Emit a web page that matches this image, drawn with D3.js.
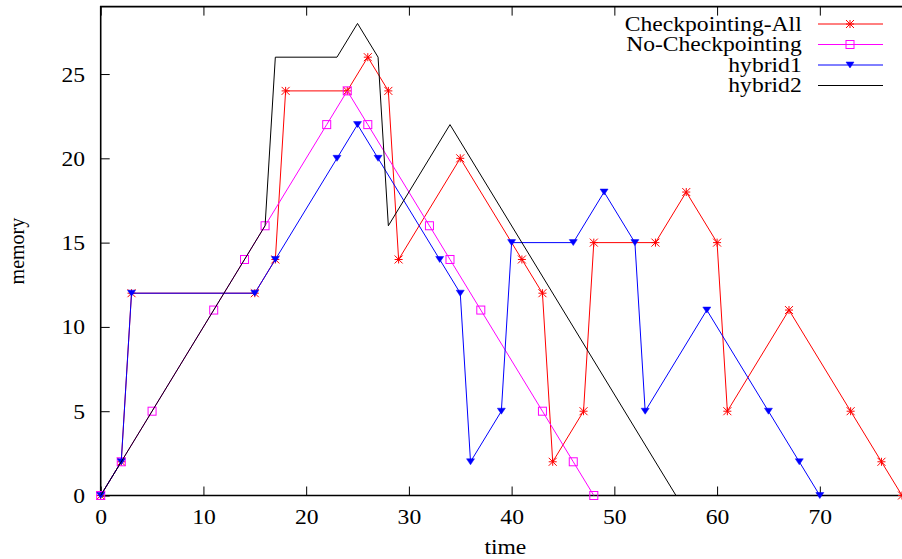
<!DOCTYPE html>
<html>
<head>
<meta charset="utf-8">
<script src="https://cdn.jsdelivr.net/npm/d3@7"></script>
<style>
  body { margin: 0; background: #fff; }
  text { font-family: "Liberation Serif", "DejaVu Serif", serif; font-size: 20px; fill: #000; }
</style>
</head>
<body>
<script>
// data
var ckptAllX = [0, 2, 3, 15, 17, 18, 24, 26, 28, 29, 35, 41, 43, 44, 47, 48, 54, 57, 60, 61, 67, 73, 76, 78];
var ckptAllY = [0, 2, 12, 12, 14, 24, 24, 26, 24, 14, 20, 14, 12, 2, 5, 15, 15, 18, 15, 5, 11, 5, 2, 0];

var noCkptX = [0, 2, 5, 11, 14, 16, 22, 24, 26, 32, 34, 37, 43, 46, 48];
var noCkptY = [0, 2, 5, 11, 14, 16, 22, 24, 22, 16, 14, 11, 5, 2, 0];

var hybrid1X = [0, 2, 3, 15, 17, 23, 25, 27, 33, 35, 36, 39, 40, 46, 49, 52, 53, 59, 65, 68, 70];
var hybrid1Y = [0, 2, 12, 12, 14, 20, 22, 20, 14, 12, 2, 5, 15, 15, 18, 15, 5, 11, 5, 2, 0];

var hybrid2X = [0, 16, 17, 23, 25, 27, 28, 34, 56];
var hybrid2Y = [0, 16, 26, 26, 28, 26, 16, 22, 0];

var xTicks = [0, 10, 20, 30, 40, 50, 60, 70];
var yTicks = [0, 5, 10, 15, 20, 25];

var series = [
  {name: "Checkpointing-All", xs: ckptAllX, ys: ckptAllY, color: "#ff0000", mark: "star"},
  {name: "No-Checkpointing", xs: noCkptX, ys: noCkptY, color: "#ff00ff", mark: "square"},
  {name: "hybrid1", xs: hybrid1X, ys: hybrid1Y, color: "#0000ff", mark: "tri"},
  {name: "hybrid2", xs: hybrid2X, ys: hybrid2Y, color: "#000000", mark: null}
];

var width = 902, height = 559;
var stretch = 1.18; // the text in the picture is a bit wide

var x = d3.scaleLinear().domain([0, 78]).range([100.7, 902]);
var y = d3.scaleLinear().domain([0, 29]).range([495.5, 6.6]);

var svg = d3.select("body").append("svg")
    .attr("width", width)
    .attr("height", height);

// axes, ticks pointing in
svg.append("g")
    .attr("transform", "translate(0," + y(0) + ")")
    .call(d3.axisBottom(x).tickValues(xTicks).tickSize(-9).tickPadding(14).tickSizeOuter(0))
    .call(function(g) {
      g.select(".domain").remove();
      g.selectAll("text").attr("transform", "scale(" + stretch + ",1)").style("font-size", "20px").style("font-family", null);
    });

svg.append("g")
    .attr("transform", "translate(0," + y(29) + ")")
    .call(d3.axisTop(x).tickValues(xTicks).tickSize(-9).tickSizeOuter(0).tickFormat(""))
    .call(function(g) { g.select(".domain").remove(); });

svg.append("g")
    .attr("transform", "translate(" + x(0) + ",0)")
    .call(d3.axisLeft(y).tickValues(yTicks).tickSize(-9).tickSizeOuter(0))
    .call(function(g) {
      g.select(".domain").remove();
      g.selectAll("text")
        .attr("x", null)
        .attr("dy", "0.35em")
        .attr("transform", "translate(-15.7,0) scale(" + stretch + ",1)")
        .style("font-size", "20px").style("font-family", null);
    });

svg.selectAll(".tick line").attr("stroke", "#000").attr("stroke-width", 1);

// frame
svg.append("path")
    .attr("d", "M" + x(78) + "," + y(29) + "H" + x(0) + "V" + y(0) + "H" + x(78))
    .attr("fill", "none")
    .attr("stroke", "#000")
    .attr("stroke-width", 1.6);

// axis titles
svg.append("text")
    .attr("transform", "translate(24," + (y(0) + y(29)) / 2 + ") rotate(-90)")
    .attr("text-anchor", "middle")
    .text("memory");

svg.append("text")
    .attr("transform", "translate(" + (x(39) + 4) + ",554) scale(" + stretch + ",1)")
    .attr("text-anchor", "middle")
    .text("time");

// markers
function drawMark(g, type, cx, cy, color) {
  if (type === "star") {
    var r = 4;
    g.append("path")
      .attr("d", "M" + (cx - r) + "," + cy + "H" + (cx + r) +
                 "M" + cx + "," + (cy - r) + "V" + (cy + r) +
                 "M" + (cx - r) + "," + (cy - r) + "L" + (cx + r) + "," + (cy + r) +
                 "M" + (cx - r) + "," + (cy + r) + "L" + (cx + r) + "," + (cy - r))
      .attr("stroke", color).attr("stroke-width", 1).attr("fill", "none");
  } else if (type === "square") {
    g.append("rect")
      .attr("x", cx - 4).attr("y", cy - 4).attr("width", 8).attr("height", 8)
      .attr("stroke", color).attr("stroke-width", 1).attr("fill", "none");
  } else if (type === "tri") {
    g.append("path")
      .attr("d", "M" + (cx - 4) + "," + (cy - 3) + "H" + (cx + 4) + "L" + cx + "," + (cy + 3) + "Z")
      .attr("fill", color).attr("stroke", color).attr("stroke-width", 0.5);
  }
}

var line = d3.line()
    .x(function(d) { return x(d[0]); })
    .y(function(d) { return y(d[1]); });

series.forEach(function(s) {
  var pts = s.xs.map(function(v, i) { return [v, s.ys[i]]; });
  var g = svg.append("g");
  g.append("path")
    .attr("d", line(pts))
    .attr("fill", "none")
    .attr("stroke", s.color)
    .attr("stroke-width", 1);
  if (s.mark) {
    pts.forEach(function(p) { drawMark(g, s.mark, x(p[0]), y(p[1]), s.color); });
  }
});

// legend
var legend = svg.append("g");
series.forEach(function(s, i) {
  var ly = 24 + i * 20.5;
  legend.append("text")
    .attr("transform", "translate(801.7," + (ly + 6.5) + ") scale(" + stretch + ",1)")
    .attr("text-anchor", "end")
    .text(s.name);
  legend.append("line")
    .attr("x1", 818).attr("x2", 883)
    .attr("y1", ly).attr("y2", ly)
    .attr("stroke", s.color).attr("stroke-width", 1);
  if (s.mark) drawMark(legend, s.mark, 850, ly, s.color);
});
</script>
</body>
</html>
